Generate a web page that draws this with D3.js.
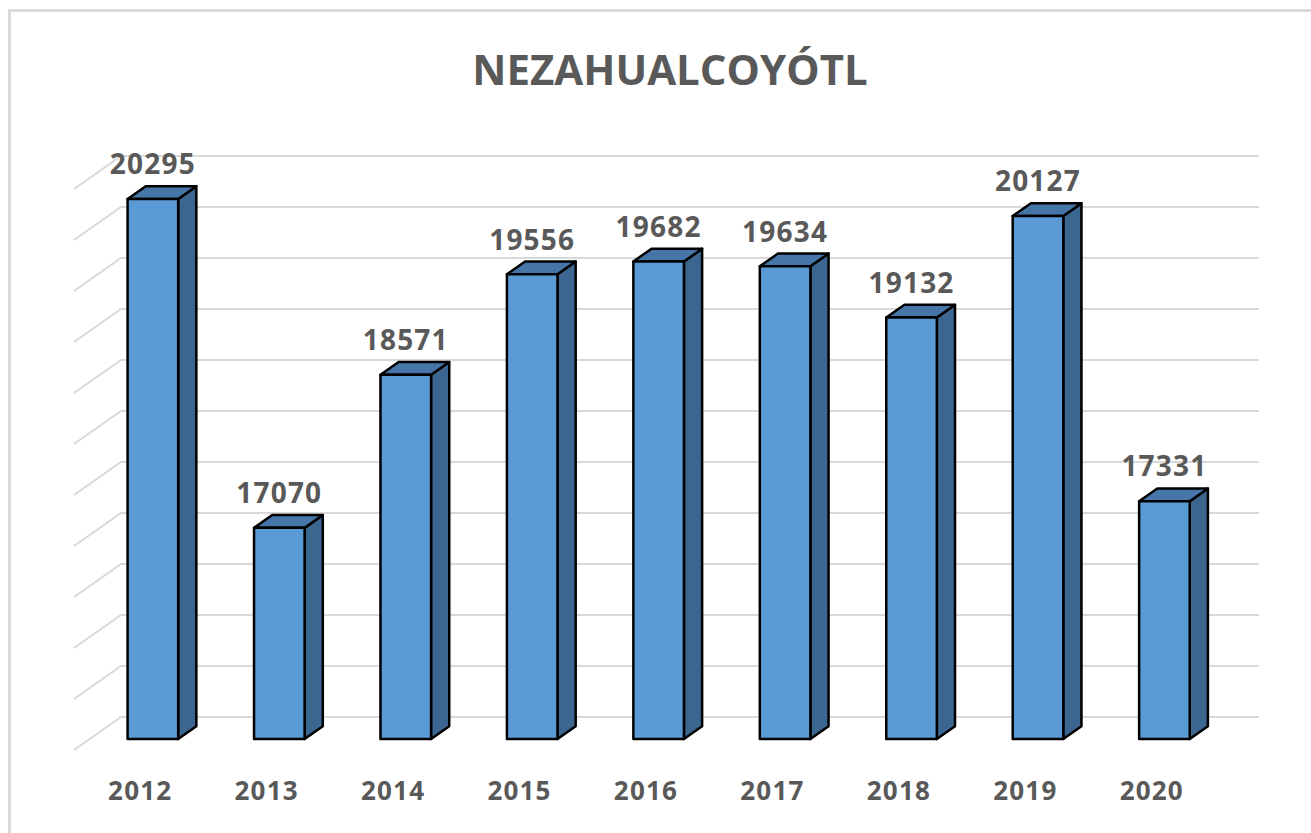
<!DOCTYPE html>
<html>
<head>
<meta charset="utf-8">
<script src="https://cdn.jsdelivr.net/npm/d3@7"></script>
<style>
  html, body { margin: 0; padding: 0; background: #fff; }
  svg { display: block; }
  text { font-family: "Open Sans", "Liberation Sans", sans-serif; font-weight: bold; fill: #595959; }
</style>
</head>
<body>
<svg id="chart" width="1311" height="833"></svg>
<script>
// ---- data ----
const title = "NEZAHUALCOYÓTL";
const years = ["2012", "2013", "2014", "2015", "2016", "2017", "2018", "2019", "2020"];
const values = [20295, 17070, 18571, 19556, 19682, 19634, 19132, 20127, 17331];
const gridTicks = [15000, 15500, 16000, 16500, 17000, 17500, 18000, 18500, 19000, 19500, 20000, 20500];

// ---- layout ----
const W = 1311, H = 833;
const DX = 47, DY = 33;          // full floor depth offset (screen)
const barZ0 = 0.333, barZ1 = 0.72; // bar depth range within floor

const svg = d3.select("#chart");

// outer frame
svg.append("rect")
  .attr("x", 9.5).attr("y", 10.5)
  .attr("width", W + 20).attr("height", H + 20)
  .attr("fill", "#fff").attr("stroke", "#d9d9d9").attr("stroke-width", 3);

const x = d3.scaleBand().domain(years).range([74, 1212]).paddingInner(0).paddingOuter(0);
const y = d3.scaleLinear().domain([15000, 20500]).range([750, 189]);

const P = (px, v, z) => [px + z * DX, y(v) - z * DY];

// gridlines: side wall diagonals and back wall horizontals
const grid = svg.append("g").attr("stroke", "#d9d9d9").attr("stroke-width", 2).attr("fill", "none");
const x0 = x.range()[0], x1 = x.range()[1];
gridTicks.forEach(v => {
  const a = P(x0, v, 0), b = P(x0, v, 1), c = P(x1, v, 1);
  grid.append("path").attr("d", `M${a[0]},${a[1]}L${b[0]},${b[1]}L${c[0]},${c[1]}`);
});

// bars
const bw = x.bandwidth() * 0.4;
const bars = svg.append("g").attr("stroke", "#000").attr("stroke-width", 2.5).attr("stroke-linejoin", "round");
years.forEach((yr, i) => {
  const v = values[i];
  const L = x(yr) + (x.bandwidth() - bw) / 2;
  const R = L + bw;
  const fTL = P(L, v, barZ0), fTR = P(R, v, barZ0), fBR = P(R, 15000, barZ0), fBL = P(L, 15000, barZ0);
  const bTL = P(L, v, barZ1), bTR = P(R, v, barZ1), bBR = P(R, 15000, barZ1);
  const poly = pts => "M" + pts.map(p => p.join(",")).join("L") + "Z";
  bars.append("path").attr("d", poly([fTR, bTR, bBR, fBR])).attr("fill", "#3A6690");
  bars.append("path").attr("d", poly([fTL, bTL, bTR, fTR])).attr("fill", "#4676A8");
  bars.append("path").attr("d", poly([fTL, fTR, fBR, fBL])).attr("fill", "#5B9BD5");
  svg.append("text")
    .attr("x", (L + R) / 2 + barZ0 * DX)
    .attr("y", bTL[1] - 12)
    .attr("text-anchor", "middle")
    .attr("font-size", 28)
    .attr("letter-spacing", 1.2)
    .text(v);
});

// category labels
years.forEach(yr => {
  const cx = x(yr) + x.bandwidth() / 2 + 3;
  svg.append("text")
    .attr("x", cx).attr("y", 800)
    .attr("text-anchor", "middle")
    .attr("font-size", 26)
    .attr("letter-spacing", 1.2)
    .text(yr);
});

// title
svg.append("text")
  .attr("x", 670).attr("y", 85)
  .attr("text-anchor", "middle")
  .attr("font-size", 42)
  .text(title);
</script>
</body>
</html>
